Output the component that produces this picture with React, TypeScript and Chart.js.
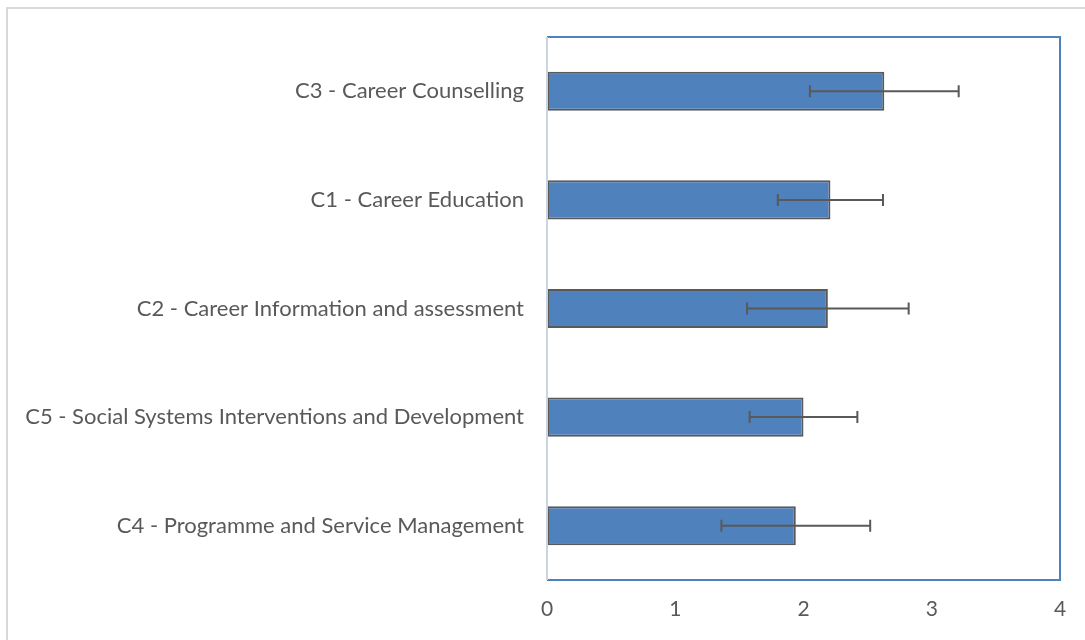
import React, { useEffect, useRef } from "react";
import { Chart, registerables } from "chart.js";

Chart.register(...registerables);

const categories = [
  "C3 - Career Counselling",
  "C1 - Career Education",
  "C2 - Career Information and assessment",
  "C5 - Social Systems Interventions and Development",
  "C4 - Programme and Service Management",
];
const means = [2.63, 2.21, 2.19, 2.0, 1.94];
const errors = [0.58, 0.41, 0.63, 0.42, 0.58];
const xTicks = [0, 1, 2, 3, 4];

const FONT = "Lato";
const TEXT = "#595959";

const frameAndErrors = {
  id: "frameAndErrors",
  afterDatasetsDraw(chart: any) {
    const { ctx, chartArea } = chart;
    const x = chart.scales.x;
    const meta = chart.getDatasetMeta(0);
    ctx.save();
    ctx.strokeStyle = "#595959";
    ctx.lineWidth = 2;
    meta.data.forEach((bar: any, i: number) => {
      const y = bar.y;
      const lo = x.getPixelForValue(means[i] - errors[i]);
      const hi = x.getPixelForValue(means[i] + errors[i]);
      ctx.beginPath();
      ctx.moveTo(lo, y);
      ctx.lineTo(hi, y);
      ctx.moveTo(lo, y - 6);
      ctx.lineTo(lo, y + 6);
      ctx.moveTo(hi, y - 6);
      ctx.lineTo(hi, y + 6);
      ctx.stroke();
    });
    // plot frame
    ctx.strokeStyle = "#4f81bd";
    ctx.lineWidth = 2;
    ctx.beginPath();
    ctx.moveTo(chartArea.left, chartArea.top);
    ctx.lineTo(chartArea.right, chartArea.top);
    ctx.lineTo(chartArea.right, chartArea.bottom);
    ctx.lineTo(chartArea.left, chartArea.bottom);
    ctx.stroke();
    ctx.strokeStyle = "#c9d5e3";
    ctx.beginPath();
    ctx.moveTo(chartArea.left, chartArea.top);
    ctx.lineTo(chartArea.left, chartArea.bottom);
    ctx.stroke();
    ctx.restore();
  },
};

export default function App() {
  const ref = useRef<HTMLCanvasElement | null>(null);
  useEffect(() => {
    if (!ref.current) return;
    const chart = new Chart(ref.current, {
      type: "bar",
      data: {
        labels: categories,
        datasets: [
          {
            data: means,
            backgroundColor: "#4f81bd",
            borderColor: "#595959",
            borderWidth: 2,
            borderSkipped: false,
            categoryPercentage: 1,
            barPercentage: 0.36,
          },
        ],
      },
      options: {
        indexAxis: "y",
        animation: false,
        responsive: false,
        layout: { padding: { top: 37, right: 25, left: 0, bottom: 0 } },
        plugins: { legend: { display: false }, tooltip: { enabled: false } },
        scales: {
          x: {
            min: 0,
            max: 4,
            afterBuildTicks: (axis: any) => {
              axis.ticks = xTicks.map((v) => ({ value: v }));
            },
            grid: { display: false, drawTicks: false },
            border: { display: false },
            ticks: { color: TEXT, font: { family: FONT, size: 21 }, padding: 17 },
            afterFit: (axis: any) => {
              axis.height = 60;
            },
          },
          y: {
            grid: { display: false, drawTicks: false },
            border: { display: false },
            ticks: { color: TEXT, font: { family: FONT, size: 22 }, padding: 23 },
            afterFit: (axis: any) => {
              axis.width = 547;
            },
          },
        },
      },
      plugins: [frameAndErrors],
    });
    return () => chart.destroy();
  }, []);
  return (
    <div style={{ position: "fixed", left: 0, top: 0, width: 1085, height: 640, background: "#fff", overflow: "hidden" }}>
      <div
        style={{
          position: "absolute",
          left: 6,
          top: 7,
          width: 1200,
          height: 800,
          borderLeft: "2px solid #d9d9d9",
          borderTop: "2px solid #d9d9d9",
        }}
      />
      <canvas ref={ref} width={1085} height={640} style={{ position: "absolute", left: 0, top: 0 }} />
    </div>
  );
}
